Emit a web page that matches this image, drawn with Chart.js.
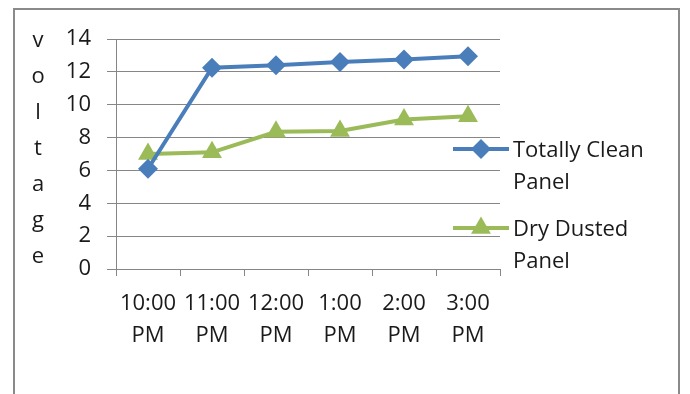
<!DOCTYPE html>
<html>
<head>
<meta charset="utf-8">
<script src="https://cdn.jsdelivr.net/npm/chart.js@4.4.1/dist/chart.umd.min.js"></script>
<style>
    html, body { margin: 0; padding: 0; background: #fff; overflow: hidden; }
    #wrap { position: relative; width: 690px; height: 394px; }
    #frame { position: absolute; left: 13px; top: 8px; width: 667px; height: 400px; border: 2px solid #8a8a8a; box-sizing: border-box; }
    canvas { position: absolute; left: 0; top: 0; }
</style>
</head>
<body>
<div id="wrap">
    <div id="frame"></div>
    <canvas id="grafik" width="690" height="394"></canvas>
</div>
<script>
// data dari gambar
const jam = [['10:00', 'PM'], ['11:00', 'PM'], ['12:00', 'PM'], ['1:00', 'PM'], ['2:00', 'PM'], ['3:00', 'PM']];
const panelBersih = [6.1, 12.25, 12.4, 12.6, 12.75, 12.95];
const panelDebu = [7.0, 7.1, 8.35, 8.4, 9.1, 9.3];
const namaSeri = [['Totally Clean', 'Panel'], ['Dry Dusted', 'Panel']];
const judulY = ['v', 'o', 'l', 't', 'a', 'g', 'e'];

const FONT = '"Open Sans"';
const UKURAN = 22;
const WARNA_TEKS = '#1a1a1a';
const BIRU = '#4a7ebb';
const HIJAU = '#9bbb59';

// judul sumbu Y ditulis huruf per huruf ke bawah
const judulPlugin = {
    id: 'judulY',
    afterDraw(chart) {
        const ctx = chart.ctx;
        ctx.save();
        ctx.font = UKURAN + 'px ' + FONT;
        ctx.fillStyle = WARNA_TEKS;
        ctx.textAlign = 'center';
        ctx.textBaseline = 'alphabetic';
        judulY.forEach((h, i) => ctx.fillText(h, 38, 47 + i * 36));
        ctx.restore();
    }
};

// legenda di kanan, teks dua baris
const legendaPlugin = {
    id: 'legendaKanan',
    afterDraw(chart) {
        const ctx = chart.ctx;
        const posY = [149, 228];
        ctx.save();
        chart.data.datasets.forEach((ds, i) => {
            const y = posY[i];
            ctx.strokeStyle = ds.borderColor;
            ctx.lineWidth = 4;
            ctx.beginPath();
            ctx.moveTo(453, y);
            ctx.lineTo(509, y);
            ctx.stroke();
            ctx.fillStyle = ds.borderColor;
            Chart.helpers.drawPoint(ctx, {
                pointStyle: ds.pointStyle,
                radius: ds.pointRadius,
                borderWidth: 0
            }, 481, y);

            ctx.font = UKURAN + 'px ' + FONT;
            ctx.fillStyle = WARNA_TEKS;
            ctx.textAlign = 'left';
            ctx.textBaseline = 'middle';
            namaSeri[i].forEach((baris, j) => ctx.fillText(baris, 513, y + 2 + j * 32));
        });
        ctx.restore();
    }
};

const ctx = document.getElementById('grafik').getContext('2d');
new Chart(ctx, {
    type: 'line',
    data: {
        labels: jam,
        datasets: [
            {
                label: 'Totally Clean Panel',
                data: panelBersih,
                borderColor: BIRU,
                backgroundColor: BIRU,
                borderWidth: 4,
                pointStyle: 'rectRot',
                pointRadius: 10,
                pointBorderWidth: 0,
                tension: 0
            },
            {
                label: 'Dry Dusted Panel',
                data: panelDebu,
                borderColor: HIJAU,
                backgroundColor: HIJAU,
                borderWidth: 4,
                pointStyle: 'triangle',
                pointRadius: 11.5,
                pointBorderWidth: 0,
                tension: 0
            }
        ]
    },
    options: {
        responsive: false,
        animation: false,
        layout: { padding: { left: 0, right: 190, top: 39, bottom: 0 } },
        plugins: { legend: { display: false }, tooltip: { enabled: false } },
        scales: {
            x: {
                offset: true,
                afterFit: (s) => { s.height = 125; },
                border: { color: '#868686', width: 1 },
                grid: { offset: true, drawOnChartArea: false, drawTicks: true, tickLength: 7, color: '#868686' },
                ticks: {
                    color: WARNA_TEKS,
                    font: { family: FONT, size: UKURAN, lineHeight: 1.45 },
                    padding: 12,
                    maxRotation: 0,
                    autoSkip: false
                }
            },
            y: {
                min: 0,
                max: 14,
                afterFit: (s) => { s.width = 116; },
                border: { color: '#868686', width: 1 },
                grid: { color: '#868686', tickLength: 9 },
                ticks: {
                    stepSize: 2,
                    color: WARNA_TEKS,
                    font: { family: FONT, size: UKURAN },
                    padding: 16
                }
            }
        }
    },
    plugins: [judulPlugin, legendaPlugin]
});
</script>
</body>
</html>
